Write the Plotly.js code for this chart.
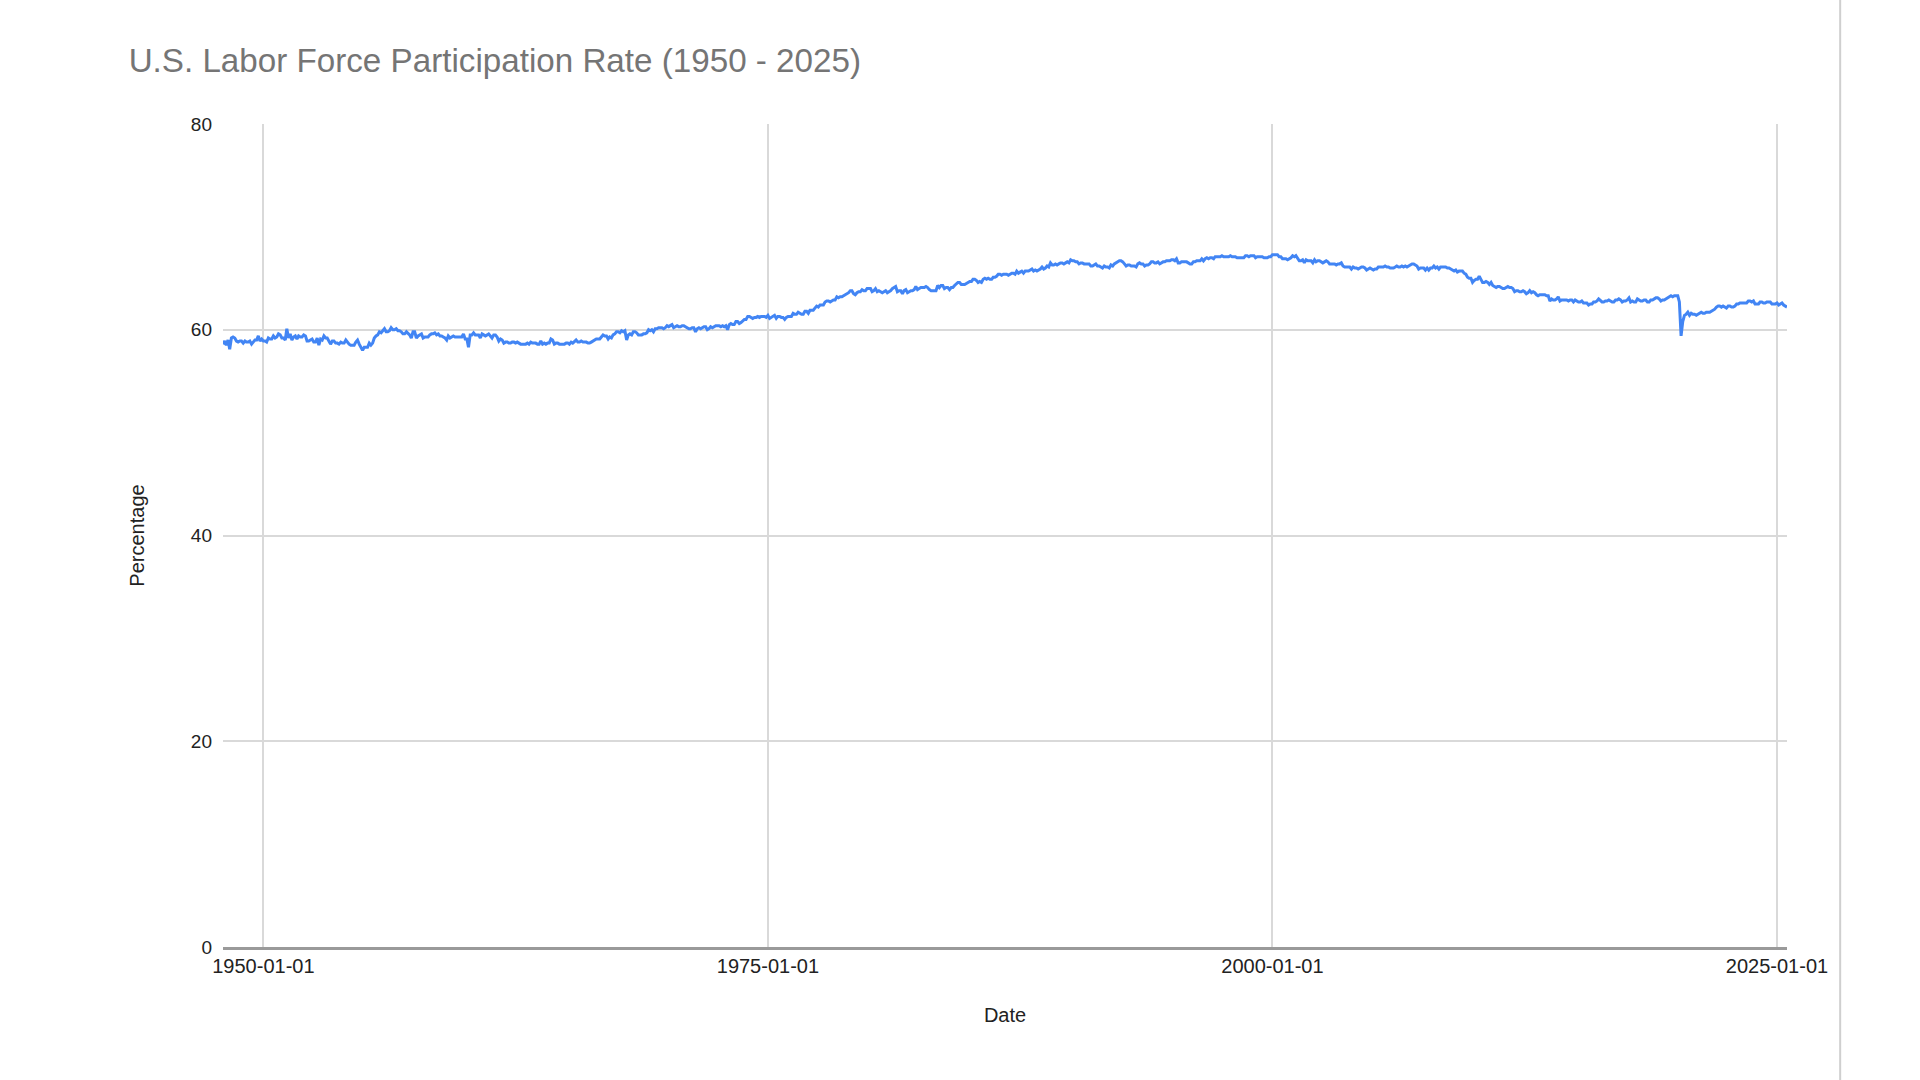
<!DOCTYPE html>
<html>
<head>
<meta charset="utf-8">
<script src="https://cdn.plot.ly/plotly-3.0.1.min.js"></script>
<style>
html, body { margin: 0; padding: 0; background: #ffffff; }
#chart { width: 1920px; height: 1080px; }
</style>
</head>
<body>
<div id="chart"></div>
<script>
// Monthly U.S. labor force participation rate (%).
const firstYear = 1948;
const firstMonth = 1;

const rate1948to1959 = [
  58.6, 58.9, 58.5, 59.0, 58.1, 59.2, 59.3, 59.2, 58.9, 58.8, 58.9, 58.9,
  58.7, 58.9, 58.8, 58.8, 58.9, 58.6, 58.8, 59.0, 59.0, 59.4, 58.9, 59.1,
  58.9, 58.9, 58.8, 59.2, 59.1, 59.1, 59.4, 59.2, 59.3, 59.6, 59.5, 59.2,
  59.2, 59.0, 60.1, 59.2, 59.6, 59.0, 59.3, 59.4, 59.1, 59.4, 59.3, 59.3,
  59.5, 59.4, 58.9, 58.9, 59.0, 59.1, 58.8, 58.8, 59.2, 58.5, 59.1, 59.0,
  59.4, 59.2, 59.2, 58.8, 58.6, 58.9, 58.9, 58.7, 58.7, 58.6, 58.8, 58.7,
  58.7, 59.0, 58.8, 58.6, 58.5, 58.5, 58.5, 58.8, 59.0, 58.6, 58.3, 58.0,
  58.3, 58.3, 58.3, 58.7, 58.5, 58.7, 59.2, 59.4, 59.5, 59.8, 59.7, 59.9,
  60.1, 59.8, 59.8, 59.9, 60.2, 60.0, 60.0, 60.1, 59.9, 59.9, 59.8, 59.6,
  59.6, 59.8, 59.7, 59.5, 59.2, 59.8, 59.8, 59.2, 59.4, 59.5, 59.6, 59.2,
  59.3, 59.3, 59.3, 59.5, 59.6, 59.6, 59.7, 59.5, 59.6, 59.4, 59.4, 59.3,
  59.2, 59.0, 59.4, 59.2, 59.3, 59.4, 59.3, 59.3, 59.3, 59.3, 59.3, 59.6
];

const rate1960to1969 = [
  59.1, 59.1, 58.3, 59.5, 59.5, 59.7, 59.5, 59.5, 59.5, 59.2, 59.6, 59.5,
  59.4, 59.5, 59.6, 59.4, 59.2, 59.5, 59.5, 59.3, 58.9, 59.1, 59.0, 58.7,
  58.8, 58.8, 58.7, 58.7, 58.8, 58.8, 58.7, 58.8, 58.7, 58.6, 58.6, 58.6,
  58.6, 58.7, 58.6, 58.8, 58.7, 58.7, 58.7, 58.6, 58.6, 58.9, 58.6, 58.7,
  58.6, 58.7, 58.7, 59.1, 59.0, 58.6, 58.7, 58.7, 58.6, 58.6, 58.6, 58.6,
  58.7, 58.7, 58.6, 58.8, 58.7, 58.9, 59.0, 58.8, 58.8, 58.9, 58.8, 58.8,
  58.8, 58.7, 58.7, 58.8, 58.9, 59.0, 59.1, 59.1, 59.1, 59.3, 59.5, 59.4,
  59.4, 59.1, 59.3, 59.2, 59.5, 59.6, 59.8, 59.8, 59.7, 59.9, 59.8, 59.9,
  59.0, 59.5, 59.6, 59.5, 59.8, 59.8, 59.7, 59.5, 59.5, 59.5, 59.6, 59.6,
  59.7, 60.0, 59.9, 60.0, 59.8, 60.1, 60.1, 60.2, 60.2, 60.2, 60.1, 60.2
];

const rate1970to1979 = [
  60.4, 60.3, 60.4, 60.5, 60.2, 60.3, 60.4, 60.3, 60.3, 60.4, 60.4, 60.3,
  60.2, 60.1, 60.1, 60.2, 60.2, 59.8, 60.1, 60.2, 60.1, 60.2, 60.3, 60.3,
  60.0, 60.1, 60.3, 60.2, 60.3, 60.4, 60.4, 60.4, 60.3, 60.4, 60.3, 60.4,
  60.0, 60.5, 60.6, 60.5, 60.5, 60.8, 60.8, 60.6, 60.7, 60.9, 61.0, 61.0,
  61.3, 61.3, 61.2, 61.1, 61.2, 61.2, 61.3, 61.2, 61.3, 61.3, 61.3, 61.2,
  61.4, 61.1, 61.2, 61.3, 61.4, 61.1, 61.3, 61.3, 61.2, 61.2, 61.0, 61.2,
  61.3, 61.3, 61.3, 61.6, 61.5, 61.5, 61.7, 61.6, 61.5, 61.5, 61.8, 61.8,
  61.6, 61.9, 61.9, 61.9, 62.1, 62.3, 62.2, 62.4, 62.4, 62.4, 62.7, 62.8,
  62.8, 62.7, 62.8, 62.9, 62.9, 63.2, 63.1, 63.2, 63.2, 63.3, 63.4, 63.5,
  63.6, 63.8, 63.8, 63.5, 63.4, 63.6, 63.7, 63.7, 63.9, 63.8, 63.8, 64.0
];

const rate1980to1989 = [
  64.0, 64.0, 63.7, 63.8, 64.0, 63.7, 63.8, 63.7, 63.6, 63.7, 63.8, 63.6,
  63.7, 63.8, 64.0, 64.1, 64.2, 63.7, 63.8, 63.8, 63.5, 63.8, 63.9, 63.6,
  63.7, 63.8, 63.8, 63.9, 64.2, 63.9, 64.0, 64.1, 64.1, 64.1, 64.2, 64.1,
  63.9, 63.8, 63.8, 63.8, 63.8, 64.3, 64.1, 64.3, 64.3, 64.0, 64.1, 64.1,
  63.9, 64.1, 64.1, 64.3, 64.5, 64.6, 64.6, 64.4, 64.4, 64.4, 64.5, 64.6,
  64.7, 64.7, 64.9, 64.9, 64.8, 64.6, 64.7, 64.6, 64.9, 65.0, 64.9, 65.0,
  64.9, 64.9, 65.1, 65.1, 65.2, 65.4, 65.4, 65.3, 65.4, 65.4, 65.4, 65.3,
  65.4, 65.5, 65.5, 65.4, 65.7, 65.5, 65.6, 65.7, 65.5, 65.7, 65.7, 65.7,
  65.8, 65.9, 65.7, 65.8, 65.7, 65.8, 65.9, 66.1, 65.9, 66.0, 66.2, 66.1,
  66.5, 66.3, 66.3, 66.4, 66.3, 66.4, 66.5, 66.5, 66.4, 66.5, 66.6, 66.5
];

const rate1990to1999 = [
  66.8, 66.7, 66.7, 66.6, 66.6, 66.4, 66.5, 66.5, 66.4, 66.4, 66.4, 66.4,
  66.2, 66.2, 66.3, 66.4, 66.2, 66.2, 66.1, 66.0, 66.2, 66.1, 66.1, 66.0,
  66.3, 66.2, 66.4, 66.5, 66.6, 66.7, 66.7, 66.6, 66.4, 66.2, 66.3, 66.3,
  66.2, 66.2, 66.2, 66.1, 66.4, 66.5, 66.4, 66.4, 66.2, 66.3, 66.3, 66.4,
  66.6, 66.6, 66.5, 66.5, 66.6, 66.4, 66.5, 66.6, 66.6, 66.7, 66.7, 66.7,
  66.8, 66.8, 66.7, 66.9, 66.5, 66.5, 66.6, 66.6, 66.6, 66.6, 66.5, 66.4,
  66.4, 66.6, 66.6, 66.7, 66.7, 66.7, 66.9, 66.7, 66.9, 67.0, 66.9, 67.0,
  67.0, 66.9, 67.1, 67.1, 67.1, 67.1, 67.2, 67.1, 67.1, 67.1, 67.1, 67.2,
  67.1, 67.1, 67.1, 67.0, 67.0, 67.0, 67.0, 67.0, 67.2, 67.2, 67.1, 67.2,
  67.2, 67.2, 67.0, 67.1, 67.1, 67.1, 67.1, 67.0, 67.0, 67.0, 67.1, 67.1
];

const rate2000to2009 = [
  67.3, 67.3, 67.3, 67.3, 67.1, 67.1, 66.9, 66.9, 66.9, 66.8, 66.9, 67.0,
  67.2, 67.1, 67.2, 66.9, 66.7, 66.7, 66.8, 66.5, 66.8, 66.7, 66.7, 66.7,
  66.5, 66.8, 66.6, 66.7, 66.7, 66.6, 66.5, 66.6, 66.7, 66.6, 66.4, 66.4,
  66.4, 66.4, 66.3, 66.4, 66.4, 66.5, 66.2, 66.1, 66.1, 66.1, 66.1, 65.9,
  66.1, 66.0, 66.0, 65.9, 66.0, 66.1, 66.1, 66.0, 65.8, 65.9, 66.0, 65.9,
  65.8, 65.9, 65.9, 66.1, 66.1, 66.1, 66.1, 66.2, 66.1, 66.1, 66.0, 66.0,
  66.0, 66.1, 66.2, 66.1, 66.1, 66.2, 66.1, 66.2, 66.1, 66.2, 66.3, 66.4,
  66.4, 66.3, 66.2, 65.9, 66.0, 66.0, 66.0, 65.8, 66.0, 65.8, 66.0, 66.0,
  66.2, 66.0, 66.1, 65.9, 66.1, 66.1, 66.1, 66.1, 66.0, 66.0, 65.9, 65.8,
  65.7, 65.8, 65.6, 65.7, 65.7, 65.7, 65.5, 65.4, 65.1, 65.0, 65.0, 64.6
];

const rate2010to2019 = [
  64.8, 64.9, 64.9, 65.2, 64.9, 64.6, 64.6, 64.7, 64.6, 64.4, 64.6, 64.3,
  64.2, 64.1, 64.2, 64.2, 64.1, 64.0, 64.0, 64.1, 64.2, 64.1, 64.1, 64.0,
  63.7, 63.8, 63.8, 63.7, 63.7, 63.8, 63.7, 63.5, 63.6, 63.8, 63.6, 63.7,
  63.6, 63.4, 63.3, 63.4, 63.4, 63.4, 63.4, 63.3, 63.3, 62.8, 63.0, 62.9,
  62.9, 63.0, 63.2, 62.8, 62.9, 62.9, 62.9, 62.9, 62.8, 62.9, 62.9, 62.7,
  62.9, 62.8, 62.7, 62.7, 62.8, 62.6, 62.6, 62.6, 62.4, 62.5, 62.5, 62.7,
  62.7, 62.8, 63.0, 62.8, 62.7, 62.7, 62.8, 62.8, 62.9, 62.8, 62.7, 62.7,
  62.9, 62.9, 63.0, 62.9, 62.7, 62.8, 62.8, 62.9, 63.1, 62.7, 62.8, 62.7,
  62.7, 63.0, 62.9, 62.8, 62.8, 62.9, 62.9, 62.7, 62.7, 62.9, 62.9, 63.0,
  63.1, 63.1, 63.0, 62.8, 62.9, 62.9, 63.0, 63.1, 63.2, 63.3, 63.2, 63.3
];

const rate2020to2025 = [
  63.3, 63.3, 62.7, 59.4, 60.8, 61.4, 61.5, 61.7, 61.4, 61.6, 61.5, 61.5,
  61.4, 61.5, 61.6, 61.7, 61.6, 61.6, 61.7, 61.7, 61.7, 61.8, 61.9, 62.0,
  62.2, 62.3, 62.3, 62.2, 62.3, 62.2, 62.1, 62.3, 62.3, 62.2, 62.2, 62.3,
  62.5, 62.5, 62.6, 62.6, 62.6, 62.6, 62.6, 62.8, 62.8, 62.7, 62.8, 62.5,
  62.5, 62.5, 62.7, 62.7, 62.6, 62.6, 62.7, 62.7, 62.7, 62.5, 62.5, 62.5,
  62.6, 62.4, 62.5, 62.6, 62.4, 62.3, 62.2
];

const xTickLabels = ['1950-01-01', '1975-01-01', '2000-01-01', '2025-01-01'];
const yTickValues = [0, 20, 40, 60, 80];
const xRange = ['1948-01-01', '2025-07-01'];
const yRange = [0, 80];

const titleText = 'U.S. Labor Force Participation Rate (1950 - 2025)';
const xTitleText = 'Date';
const yTitleText = 'Percentage';

// Build the monthly series
const rates = [].concat(rate1948to1959, rate1960to1969, rate1970to1979, rate1980to1989,
                        rate1990to1999, rate2000to2009, rate2010to2019, rate2020to2025);
const dates = rates.map(function (_, i) {
  const m = firstMonth - 1 + i;
  const y = firstYear + Math.floor(m / 12);
  const mm = (m % 12) + 1;
  return y + '-' + (mm < 10 ? '0' + mm : mm) + '-01';
});

const FONT = '"Liberation Sans", Arial, Helvetica, sans-serif';

const trace = {
  type: 'scatter',
  mode: 'lines',
  x: dates,
  y: rates,
  line: { color: '#4285F4', width: 3 },
  hoverinfo: 'x+y'
};

const layout = {
  width: 1920,
  height: 1080,
  margin: { l: 223, r: 133, t: 124, b: 133 },
  paper_bgcolor: '#ffffff',
  plot_bgcolor: '#ffffff',
  font: { family: FONT, color: '#222222', size: 20 },
  showlegend: false,
  title: {
    text: titleText,
    font: { family: FONT, size: 33.2, color: '#757575' },
    xref: 'container', yref: 'container',
    x: 0.067, xanchor: 'left',
    y: 0.944, yanchor: 'middle'
  },
  xaxis: {
    type: 'date',
    range: xRange,
    tickvals: xTickLabels,
    ticktext: xTickLabels,
    tickfont: { family: FONT, size: 20, color: '#222222' },
    ticks: '',
    ticklabelstandoff: -1,
    showgrid: true,
    gridcolor: '#d9d9d9',
    gridwidth: 1.5,
    zeroline: false,
    showline: true,
    linecolor: '#9a9a9a',
    linewidth: 2.5,
    automargin: false,
    title: { text: xTitleText, font: { family: FONT, size: 20, color: '#222222' }, standoff: 33 }
  },
  yaxis: {
    range: yRange,
    tickvals: yTickValues,
    tickfont: { family: FONT, size: 19, color: '#222222' },
    ticks: '',
    ticklabelstandoff: 10,
    showgrid: true,
    gridcolor: '#d9d9d9',
    gridwidth: 1.5,
    zeroline: false,
    showline: false,
    automargin: false,
    title: { text: yTitleText, font: { family: FONT, size: 20, color: '#222222' }, standoff: 40 }
  },
  shapes: [{
    type: 'line', xref: 'paper', yref: 'paper',
    x0: 1.034, x1: 1.034, y0: -0.17, y1: 1.16,
    line: { color: '#cfcfcf', width: 2 }
  }]
};

Plotly.newPlot('chart', [trace], layout, { displayModeBar: false, responsive: false });
</script>
</body>
</html>
